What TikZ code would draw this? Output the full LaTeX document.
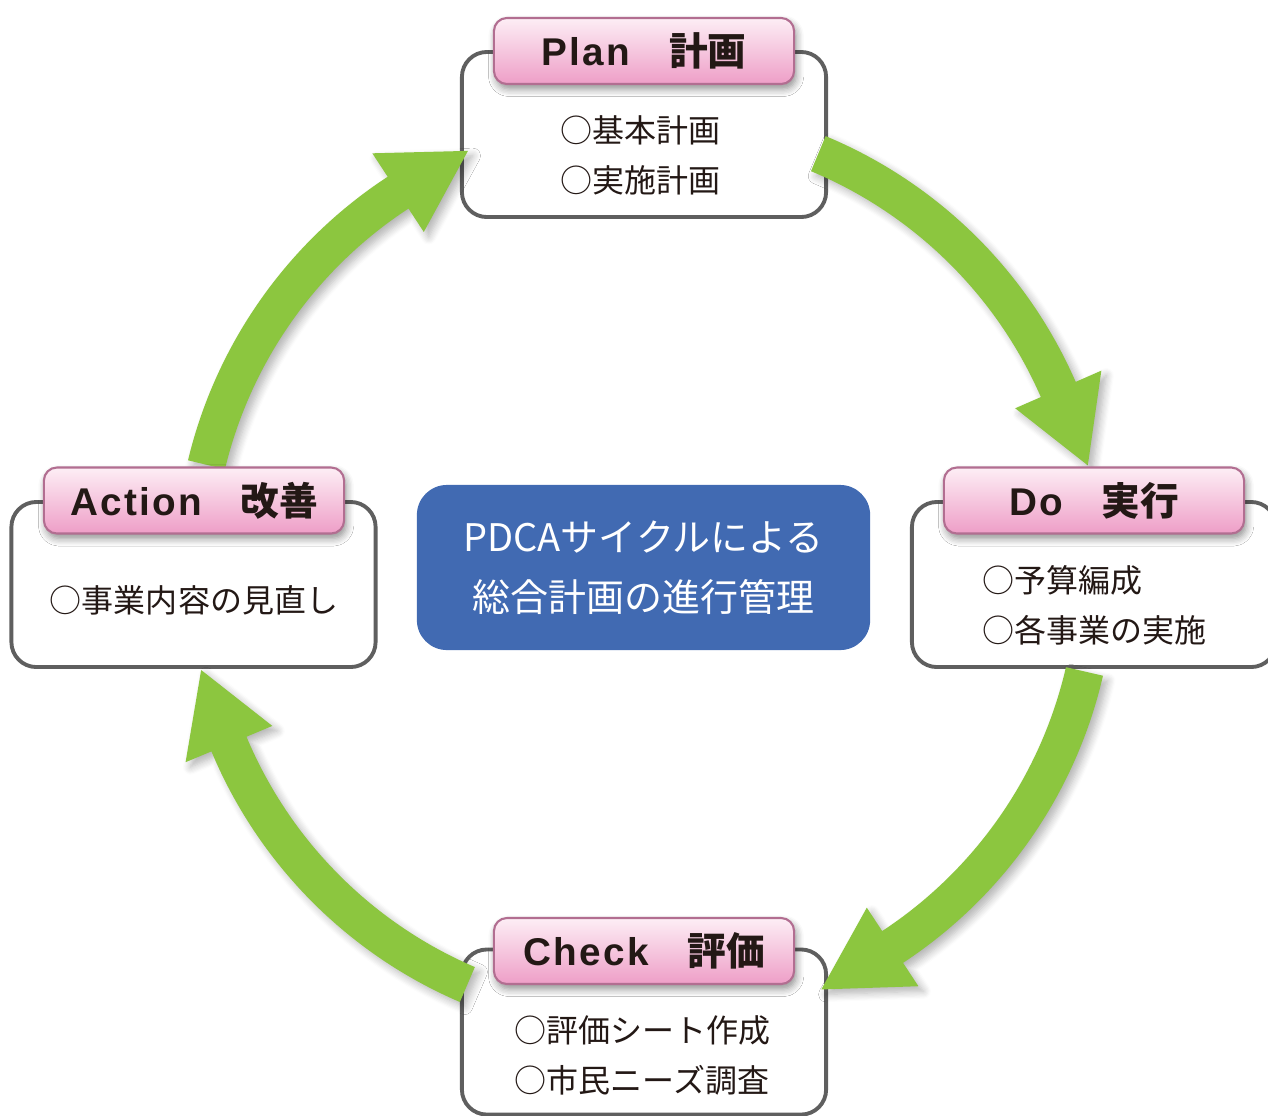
\documentclass[tikz,border=0pt]{standalone}
\usepackage{fontspec}
\setmainfont{Noto Sans CJK JP}
\newfontfamily\taglatin[LetterSpace=6]{Liberation Sans}
\usetikzlibrary{calc,shadows.blur}

\definecolor{cycgreen}{RGB}{140,198,63}
\definecolor{coreblue}{RGB}{65,106,178}
\definecolor{framegray}{RGB}{95,95,95}
\definecolor{inkdark}{RGB}{35,24,21}
\definecolor{pinktop}{RGB}{253,238,245}
\definecolor{pinkbottom}{RGB}{238,158,199}
\definecolor{pinkedge}{RGB}{178,110,145}

% curved cycle arrow around (C): tail angle, head-base angle, tip angle
\newcommand\cyclearc[3]{%
  \fill[cycflow] ($(C)+(#1:470)$) arc[start angle=#1, end angle=#2, radius=470]
    -- ($(C)+(#2:498)$) -- ($(C)+(#3:455)$) -- ($(C)+(#2:404)$) -- ($(C)+(#2:432)$)
    arc[start angle=#2, end angle=#1, radius=432] -- cycle;}

% title: Latin word, ideographic space, Japanese word
\newcommand\stagetitle[2]{{\taglatin #1}　#2}

\tikzset{
  stagebox/.style={draw=framegray, line width=1.1pt, fill=white,
    rounded corners=0.25cm, minimum width=3.64cm, minimum height=1.65cm, inner sep=0pt},
  tagbox/.style={draw=pinkedge, line width=0.6pt, top color=pinktop, bottom color=pinkbottom,
    rounded corners=0.13cm, minimum width=3.0cm, minimum height=0.66cm, inner sep=0pt,
    font=\fontsize{11}{13}\selectfont\bfseries, text=inkdark,
    blur shadow={shadow xshift=0.6pt, shadow yshift=-1.4pt, shadow blur steps=6, shadow opacity=45}},
  itemtext/.style={font=\fontsize{9.1}{14.2}\selectfont, text=inkdark, inner sep=0pt},
  corebox/.style={fill=coreblue, rounded corners=0.3cm, minimum width=4.53cm,
    minimum height=1.65cm, text=white, align=center, inner sep=0pt,
    font=\fontsize{10.8}{17}\selectfont},
  cycflow/.style={fill=cycgreen,
    blur shadow={shadow xshift=1.4pt, shadow yshift=-1.4pt, shadow blur steps=7, shadow opacity=30}}
}

\begin{document}
\begin{tikzpicture}[x=0.01cm, y=0.01cm]
\useasboundingbox (0,0) rectangle (1268,-1115);

% stage frames
\node[stagebox] (plan)  at (644,-134.5) {};
\node[stagebox] (do)    at (1094,-584.5) {};
\node[stagebox] (check) at (644,-1032) {};
\node[stagebox] (act)   at (193.5,-584.5) {};

% stage contents
\node[itemtext, align=center] (planitems) at (640,-155) {○基本計画\\○実施計画};
\node[itemtext, align=left, anchor=west] (doitems) at (982,-605) {○予算編成\\○各事業の実施};
\node[itemtext, align=center] (checkitems) at (642,-1055) {○評価シート作成\\○市民ニーズ調査};
\node[itemtext] (actitems) at (194,-600) {○事業内容の見直し};

% cycle flow
\coordinate (C) at (645,-570);
\cyclearc{67.4}{23.6}{13.3}       % plan -> do
\cyclearc{-13}{-56.7}{-67.2}      % do -> check
\cyclearc{-113.2}{-157.3}{-167.3} % check -> act
\cyclearc{166.5}{123.2}{112.9}    % act -> plan

% stage titles
\node[tagbox] (plantag)  at (644,-51)     {\stagetitle{Plan}{計画}};
\node[tagbox] (dotag)    at (1094,-500.5) {\stagetitle{Do}{実行}};
\node[tagbox] (checktag) at (644,-951)    {\stagetitle{Check}{評価}};
\node[tagbox] (acttag)   at (194,-500.5)  {\stagetitle{Action}{改善}};

% centre label
\node[corebox] (core) at (643.5,-567.5) {PDCAサイクルによる\\総合計画の進行管理};
\end{tikzpicture}
\end{document}
